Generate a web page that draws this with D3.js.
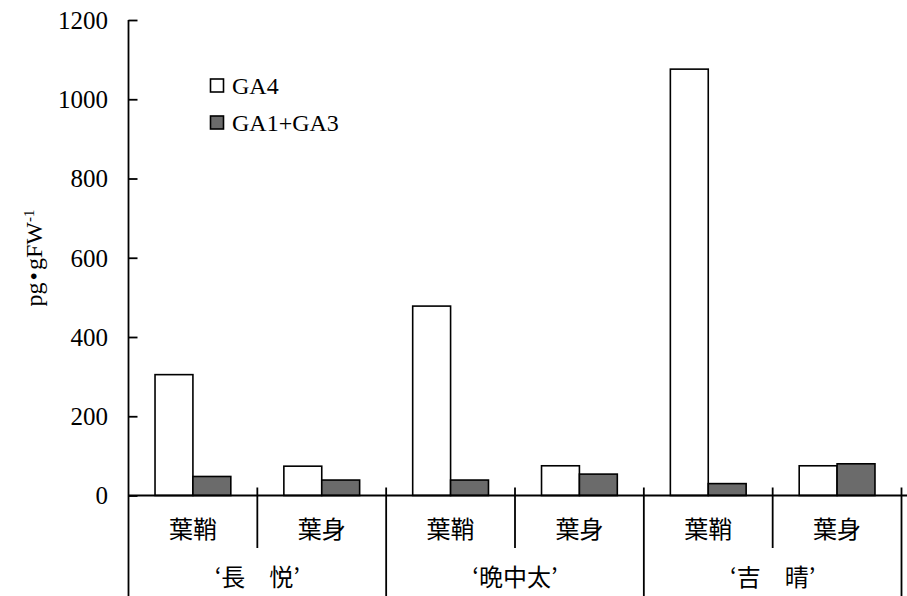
<!DOCTYPE html>
<html>
<head>
<meta charset="utf-8">
<script src="https://cdn.jsdelivr.net/npm/d3@7"></script>
<style>
  html, body { margin: 0; padding: 0; background: #fff; }
  svg { display: block; }
</style>
</head>
<body>
<div id="chart"></div>
<script>
// ---- data ----
const groups = ["‘長　悦’", "‘晩中太’", "‘吉　晴’"];
const parts = ["葉鞘", "葉身"];
const seriesNames = ["GA4", "GA1+GA3"];
const ga4 = [305, 74, 478, 75, 1076, 75];
const ga13 = [48, 39, 39, 54, 30, 80];
const yTicks = [0, 200, 400, 600, 800, 1000, 1200];
const yTitle = "pg•gFW";
const yTitleSup = "-1";

// ---- layout ----
const W = 907, H = 596;
const plotLeft = 128.5, plotRight = 901.5, plotTop = 20, zeroY = 495.5;
const serif = "'Liberation Serif', 'DejaVu Serif', serif";
const cjk = "'Noto Sans CJK JP', 'Noto Sans CJK SC', sans-serif";
const colors = ["#ffffff", "#6b6b6b"];

const svg = d3.select("#chart").append("svg").attr("width", W).attr("height", H);

const cats = [];
groups.forEach((g, gi) => parts.forEach((p, pi) => cats.push({ id: gi * 2 + pi, group: g, part: p })));
const values = cats.map((c, i) => [ga4[i], ga13[i]]);

const x = d3.scaleBand().domain(cats.map(c => c.id)).range([plotLeft, plotRight]).padding(0);
const xs = d3.scaleBand().domain(seriesNames).range([0, x.bandwidth()]).paddingOuter(0.7).paddingInner(0);
const y = d3.scaleLinear().domain([0, 1200]).range([zeroY, plotTop]);

// bars
const gBars = svg.append("g");
cats.forEach((c, i) => {
  seriesNames.forEach((s, si) => {
    const v = values[i][si];
    gBars.append("rect")
      .attr("x", x(c.id) + xs(s))
      .attr("y", y(v))
      .attr("width", xs.bandwidth())
      .attr("height", y(0) - y(v))
      .attr("fill", colors[si])
      .attr("stroke", "#000")
      .attr("stroke-width", 1.6);
  });
});

// y axis
const yAxis = d3.axisRight(y).tickValues(yTicks).tickSize(9).tickFormat("");
const ga = svg.append("g").attr("transform", `translate(${plotLeft},0)`).call(yAxis);
ga.select(".domain").remove();
ga.selectAll(".tick line").attr("stroke", "#000").attr("stroke-width", 1.8);
svg.append("line").attr("x1", plotLeft).attr("x2", plotLeft).attr("y1", plotTop).attr("y2", H)
  .attr("stroke", "#000").attr("stroke-width", 1.8);
svg.selectAll(".ylab").data(yTicks).enter().append("text")
  .attr("x", 108).attr("y", d => y(d)).attr("dy", "0.35em")
  .attr("text-anchor", "end")
  .attr("font-family", serif).attr("font-size", 25).attr("fill", "#000")
  .text(d => d);

// zero line
svg.append("line").attr("x1", plotLeft).attr("x2", W).attr("y1", zeroY).attr("y2", zeroY)
  .attr("stroke", "#000").attr("stroke-width", 1.8);

// category dividers
cats.forEach((c, i) => {
  const xr = x(c.id) + x.bandwidth();
  const isGroupEnd = (i % 2 === 1);
  svg.append("line").attr("x1", xr).attr("x2", xr)
    .attr("y1", zeroY - 8).attr("y2", isGroupEnd ? H : 548)
    .attr("stroke", "#000").attr("stroke-width", 1.8);
});

// sub-category labels
svg.selectAll(".plab").data(cats).enter().append("text")
  .attr("x", c => x(c.id) + x.bandwidth() / 2)
  .attr("y", 530).attr("dy", "0.35em")
  .attr("text-anchor", "middle")
  .attr("font-family", cjk).attr("font-size", 24).attr("fill", "#000")
  .text(c => c.part);

// group labels
groups.forEach((g, gi) => {
  const x0 = x(gi * 2), x1 = x(gi * 2 + 1) + x.bandwidth();
  svg.append("text")
    .attr("x", (x0 + x1) / 2).attr("y", 578).attr("dy", "0.35em")
    .attr("text-anchor", "middle")
    .attr("font-family", cjk).attr("font-size", 24).attr("fill", "#000")
    .text(g);
});

// legend
const legend = svg.append("g");
seriesNames.forEach((s, si) => {
  const cy = 85.5 + si * 37;
  legend.append("rect").attr("x", 210.5).attr("y", cy - 6.5).attr("width", 13).attr("height", 13)
    .attr("fill", colors[si]).attr("stroke", "#000").attr("stroke-width", 1.6);
  legend.append("text").attr("x", 232).attr("y", cy).attr("dy", "0.35em")
    .attr("font-family", serif).attr("font-size", 24).attr("fill", "#000").text(s);
});

// y title
const yt = svg.append("text")
  .attr("transform", "translate(42,258) rotate(-90)")
  .attr("text-anchor", "middle")
  .attr("font-family", serif).attr("font-size", 24).attr("fill", "#000");
yt.append("tspan").text("pg");
yt.append("tspan").attr("dx", 2).text("•");
yt.append("tspan").attr("dx", 2).text("gFW");
yt.append("tspan").attr("baseline-shift", "super").attr("font-size", 15).text(yTitleSup);
</script>
</body>
</html>
